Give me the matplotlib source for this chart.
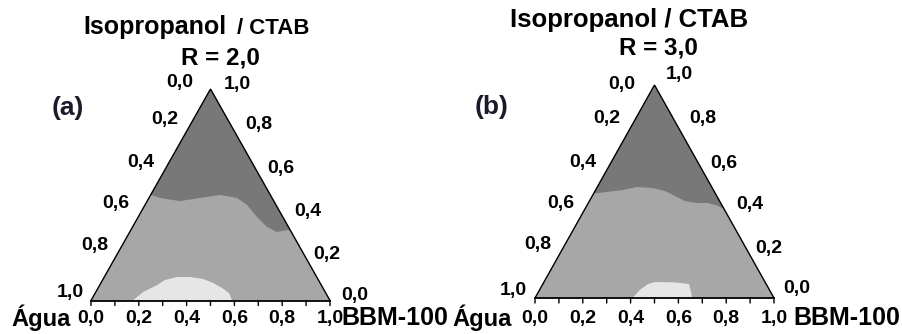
import numpy as np
import matplotlib
matplotlib.use("Agg")
import matplotlib.pyplot as plt

plt.rcParams["font.family"] = ["Liberation Sans", "DejaVu Sans"]

# Ternary compositions: each boundary point is (BBM-100 fraction, Isopropanol/CTAB fraction)
tick_values = [0.0, 0.2, 0.4, 0.6, 0.8, 1.0]
tick_labels = ["0,0", "0,2", "0,4", "0,6", "0,8", "1,0"]

# Panel (a), R = 2,0
a_upper_boundary_bbm = [0.000, 0.046, 0.137, 0.214, 0.290, 0.368, 0.427, 0.497, 0.562, 0.616, 0.654, 0.670]
a_upper_boundary_cs = [0.500, 0.485, 0.470, 0.485, 0.499, 0.485, 0.452, 0.395, 0.348, 0.324, 0.333, 0.330]
a_lower_region_bbm = [0.175, 0.198, 0.240, 0.261, 0.304, 0.359, 0.418, 0.469, 0.519, 0.560, 0.591]
a_lower_region_cs = [0.000, 0.040, 0.073, 0.097, 0.111, 0.111, 0.102, 0.083, 0.059, 0.035, 0.000]

# Panel (b), R = 3,0
b_upper_boundary_bbm = [0.000, 0.052, 0.115, 0.166, 0.236, 0.293, 0.346, 0.400, 0.455, 0.501, 0.550, 0.582]
b_upper_boundary_cs = [0.490, 0.498, 0.507, 0.521, 0.516, 0.502, 0.479, 0.455, 0.446, 0.446, 0.432, 0.418]
b_lower_region_bbm = [0.408, 0.420, 0.440, 0.465, 0.549, 0.611, 0.639, 0.657]
b_lower_region_cs = [0.000, 0.038, 0.066, 0.075, 0.073, 0.066, 0.028, 0.000]

DARK = "#787878"
MID = "#a7a7a7"
LIGHT = "#e6e6e6"
TICK_FS = 14

# Label offsets (pixels) from the edge points, one per tick value
A_LEFT_OFF = [(-31, 7), (-22, 12), (-22, 11), (-23, 12), (-20, 13), (-21, 8)]
A_RIGHT_OFF = [(25, 5), (21, 4), (26, 4), (23, 5), (24, 7), (27, 4)]
B_LEFT_OFF = [(-33, 1), (-24, 9), (-24, 8), (-22, 9), (-21, 11), (-22, 8)]
B_RIGHT_OFF = [(23, 9), (19, 7), (24, 8), (22, 7), (24, 9), (25, 10)]

W, H = 903, 334
fig = plt.figure(figsize=(W / 100, H / 100), dpi=100)
fig.patch.set_facecolor("white")


def to_xy(bbm, cs):
    bbm = np.asarray(bbm, dtype=float)
    cs = np.asarray(cs, dtype=float)
    return bbm + cs / 2.0, cs


def fx(px):
    return px / W


def fy(py):
    return 1 - py / H


def draw_panel(left_px, right_px, base_py, top_py, upper_bbm, upper_cs,
               lower_bbm, lower_cs, left_offs, right_offs, bottom_dy):
    ax = fig.add_axes([fx(left_px), fy(base_py), (right_px - left_px) / W,
                       (base_py - top_py) / H])
    ax.set_xlim(0, 1)
    ax.set_ylim(0, 1)
    ax.axis("off")

    # Whole triangle in the middle shade
    tri_x, tri_y = to_xy([0, 1, 0], [0, 0, 1])
    ax.fill(tri_x, tri_y, color=MID, lw=0, zorder=1)

    # Dark upper region: boundary then up to the apex
    ux, uy = to_xy(upper_bbm, upper_cs)
    ax.fill(np.r_[ux, 0.5], np.r_[uy, 1.0], color=DARK, lw=0, zorder=2)

    # Light region along the base
    lx, ly = to_xy(lower_bbm, lower_cs)
    ax.fill(lx, ly, color=LIGHT, lw=0, zorder=2)

    # Triangle edges
    ax.plot([0, 0.5, 1], [0, 1, 0], color="black", lw=1.0, zorder=4,
            clip_on=False, solid_joinstyle="miter")
    ax.plot([0, 1], [0, 0], color="black", lw=1.3, zorder=4, clip_on=False)

    # Bottom ticks (every 0.1)
    for v in np.linspace(0, 1, 11):
        ax.annotate("", xy=(v, 0), xycoords="data", xytext=(0, -5),
                    textcoords="offset pixels",
                    arrowprops=dict(arrowstyle="-", color="black", lw=1.0,
                                    shrinkA=0, shrinkB=0))

    for v, lab, loff, roff in zip(tick_values, tick_labels, left_offs, right_offs):
        # Bottom axis: BBM-100 fraction
        ax.annotate(lab, xy=(v, 0), xycoords="data", xytext=(0, bottom_dy),
                    textcoords="offset pixels", ha="center", va="center",
                    fontsize=TICK_FS, fontweight="bold", annotation_clip=False)
        # Left axis: water fraction, 0 at apex
        lx0, ly0 = to_xy(0, 1 - v)
        ax.annotate(lab, xy=(lx0, ly0), xycoords="data", xytext=loff,
                    textcoords="offset pixels", ha="center", va="center",
                    fontsize=TICK_FS, fontweight="bold", annotation_clip=False)
        # Right axis: Isopropanol/CTAB fraction, 1 at apex
        rx0, ry0 = to_xy(1 - v, v)
        ax.annotate(lab, xy=(rx0, ry0), xycoords="data", xytext=roff,
                    textcoords="offset pixels", ha="center", va="center",
                    fontsize=TICK_FS, fontweight="bold", annotation_clip=False)
    return ax


draw_panel(91, 330, 300.5, 89, a_upper_boundary_bbm, a_upper_boundary_cs,
           a_lower_region_bbm, a_lower_region_cs,
           A_LEFT_OFF, A_RIGHT_OFF, bottom_dy=-18)
draw_panel(535, 774, 298, 85, b_upper_boundary_bbm, b_upper_boundary_cs,
           b_lower_region_bbm, b_lower_region_cs,
           B_LEFT_OFF, B_RIGHT_OFF, bottom_dy=-20)

# Titles and vertex names
fig.text(fx(155), fy(27), "Isopropanol", ha="center", va="center",
         fontsize=18, fontweight="bold")
fig.text(fx(273), fy(28), "/ CTAB", ha="center", va="center",
         fontsize=16, fontweight="bold")
fig.text(fx(220), fy(58), "R = 2,0", ha="center", va="center",
         fontsize=17.5, fontweight="bold")
fig.text(fx(68), fy(108), "(a)", ha="center", va="center",
         fontsize=19, fontweight="bold", color="#1b1b2a")
fig.text(fx(41), fy(318), "Água", ha="center", va="center",
         fontsize=17, fontweight="bold")
fig.text(fx(395), fy(318), "BBM-100", ha="center", va="center",
         fontsize=18, fontweight="bold")

fig.text(fx(629), fy(20), "Isopropanol / CTAB", ha="center", va="center",
         fontsize=18.5, fontweight="bold")
fig.text(fx(658), fy(48), "R = 3,0", ha="center", va="center",
         fontsize=17.5, fontweight="bold")
fig.text(fx(492), fy(107), "(b)", ha="center", va="center",
         fontsize=19, fontweight="bold", color="#1b1b2a")
fig.text(fx(482), fy(318), "Água", ha="center", va="center",
         fontsize=17, fontweight="bold")
fig.text(fx(847), fy(318), "BBM-100", ha="center", va="center",
         fontsize=18, fontweight="bold")

fig.savefig("out.png", dpi=100, facecolor="white")
